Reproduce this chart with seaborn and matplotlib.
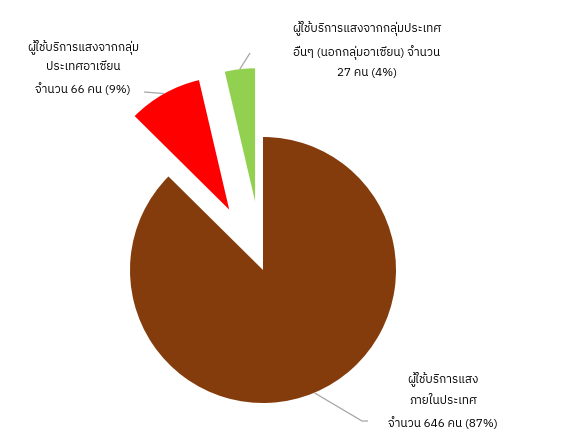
import numpy as np
import matplotlib
matplotlib.use("Agg")
import matplotlib.pyplot as plt
from matplotlib import font_manager
from fontTools.ttLib import TTFont
import seaborn as sns

# visitor groups (counts)
groups = ["domestic", "asean", "other"]
counts = [646, 66, 27]
label_text = [
    "ผู้ใช้บริการแสง\nภายในประเทศ\nจำนวน 646 คน (87%)",
    "ผู้ใช้บริการแสงจากกลุ่ม\nประเทศอาเซียน\nจำนวน 66 คน (9%)",
    "ผู้ใช้บริการแสงจากกลุ่มประเทศ\nอื่นๆ (นอกกลุ่มอาเซียน) จำนวน\n27 คน (4%)",
]
colors = ["#843C0C", "#FF0000", "#92D050"]
explode = [0, 0.52, 0.52]  # fraction of the radius


def thai_font():
    # look for an installed family that has thai glyphs
    found = []
    for f in font_manager.fontManager.ttflist:
        try:
            cmap = TTFont(f.fname, fontNumber=0, lazy=True).getBestCmap()
        except Exception:
            continue
        if cmap and 0x0E1C in cmap and 0x0E49 in cmap:
            found.append(f.name)
    if not found:
        return "DejaVu Sans"
    found.sort(key=lambda n: (("Thai" not in n), ("UI" in n), n))
    return found[0]


sns.set_theme(style="white")
plt.rcParams["font.family"] = [thai_font(), "DejaVu Sans"]

W, H = 564, 438
fig = plt.figure(figsize=(W / 100, H / 100), dpi=100)
ax = fig.add_axes([0, 0, 1, 1])

# pie drawn in pixel-like units so the labels can be placed easily
cx, cy, rad = 263, H - 270, 133
wedges, _ = ax.pie(counts, colors=colors, startangle=90, counterclock=False,
                   explode=[e * rad for e in explode], radius=rad,
                   center=(cx, cy), wedgeprops=dict(linewidth=0))

# label position (center of text block) and leader line end, in image px
label_pos = [(443, 400), (83, 67), (367, 49)]
leader_end = [[(362, 421), (368, 421)], [(144, 92)], [(250, 53)]]

for w, txt, (lx, ly), ends in zip(wedges, label_text, label_pos, leader_end):
    mid = np.deg2rad((w.theta1 + w.theta2) / 2)
    px = w.center[0] + w.r * np.cos(mid)
    py = w.center[1] + w.r * np.sin(mid)
    xs = [px] + [e[0] for e in ends]
    ys = [py] + [H - e[1] for e in ends]
    ax.plot(xs, ys, color="#A6A6A6", lw=0.9, solid_capstyle="butt")
    ax.text(lx, H - ly, txt, ha="center", va="center", fontsize=8.5,
            linespacing=1.95, color="black")

ax.set_xlim(0, W)
ax.set_ylim(0, H)
ax.set_aspect("equal")
ax.axis("off")

fig.savefig("out.png", dpi=100, facecolor="white")
